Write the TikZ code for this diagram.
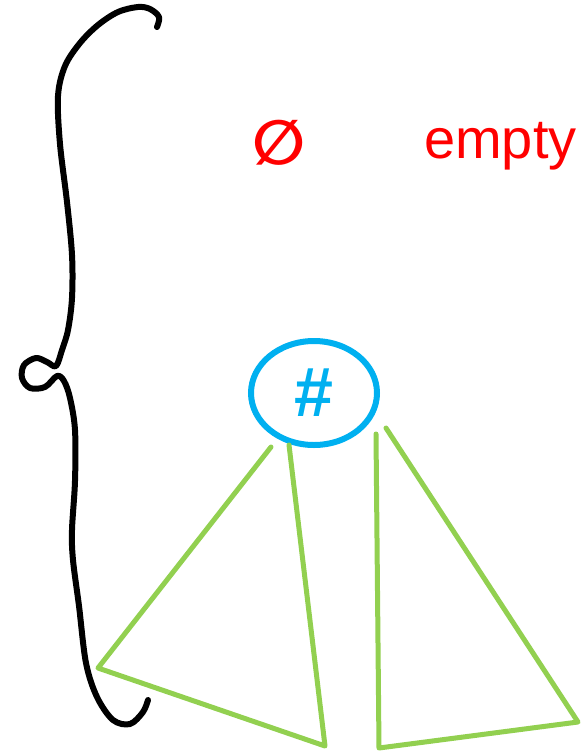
\documentclass[tikz,border=0pt]{standalone}
\usepackage{fontspec}
\setsansfont{Liberation Sans}
\newfontfamily\symfont{DejaVu Sans}
\usetikzlibrary{positioning, shapes.geometric}
\definecolor{penred}{RGB}{255,0,0}
\definecolor{penblue}{RGB}{0,176,240}
\definecolor{pengreen}{RGB}{146,208,80}
\tikzset{%
	brace/.style = {line width = 6pt, line cap = round, line join = round},
	note/.style = {text = penred, font = \sffamily\fontsize{56}{60}\selectfont, inner sep = 0pt},
	cell/.style = {name = #1, ellipse, draw = penblue, line width = 6pt, minimum width = 126pt, minimum height = 104pt, inner sep = 0pt, text = penblue, font = \sffamily\bfseries\fontsize{70}{72}\selectfont},
	tri/.style = {draw = pengreen, line width = 5pt, line cap = round, line join = round}
}
\begin{document}
\begin{tikzpicture}[x = 1pt, y = -1pt]
		\useasboundingbox (0,0) rectangle (585,755);
		% brace with loop
		\draw [brace] plot [smooth, tension = 0.55] coordinates {(157,27) (159,17) (150,9) (138,7) (118,12) (98,25) (80,43) (65,66) (58,96) (60,144) (67,202) (72,255) (72,298) (68,330) (62,350) (56,366) (47,362) (36,358) (24,365) (22,378) (30,388) (45,387) (57,376) (64,381) (70,398) (75,430) (75,481) (72,530) (73,560) (79,606) (86,663) (97,697) (113,720) (130,724) (143,712) (148,700)};
		% empty set
		\node [note, font = \symfont\bfseries\fontsize{62}{64}\selectfont] (nul) at (279,143) {∅};
		\node [note, anchor = base west] (word) at (424,158) {empty};
		% root and its two subtrees
		\node [cell = {hash}] at (314,393) {\#};
		\coordinate (l1) at (98,668);
		\coordinate (l2) at (325,746);
		\coordinate (r1) at (379,748);
		\coordinate (r2) at (578,722);
		\draw [tri] (271,447) -- (l1) -- (l2) -- (289,445);
		\draw [tri] (376,434) -- (r1) -- (r2) -- (386,428);
\end{tikzpicture}
\end{document}
